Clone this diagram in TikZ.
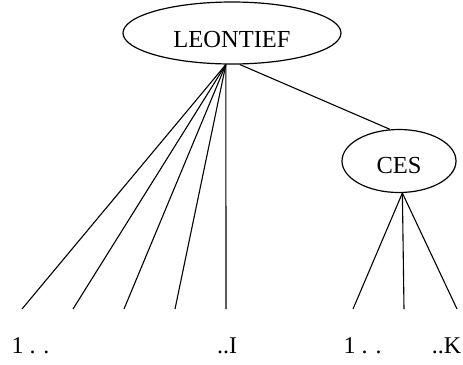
\documentclass[tikz,border=0pt]{standalone}
\usepackage{fontspec}
\setmainfont{Liberation Serif}
\usetikzlibrary{shapes.geometric}
\begin{document}
\begin{tikzpicture}[x=1bp,y=-1bp,
  nodeell/.style={draw,ellipse,line width=1.2bp,inner sep=0pt,font=\fontsize{24.5bp}{28bp}\selectfont,text depth=0pt},
  edge/.style={line width=1.1bp},
  leaflabel/.style={anchor=base,inner sep=0pt,font=\fontsize{24bp}{28bp}\selectfont}]
\useasboundingbox (0,0) rectangle (463,364);
\node[nodeell,minimum width=218bp,minimum height=62bp,text height=28bp] (L) at (232,33) {LEONTIEF};
\node[nodeell,minimum width=114bp,minimum height=63bp,text height=24bp] (C) at (399,161) {CES};
\coordinate (a1) at (22,309);
\coordinate (a2) at (73,309);
\coordinate (a3) at (124,309);
\coordinate (a4) at (175,309);
\coordinate (a5) at (226,309);
\coordinate (b1) at (353,309);
\coordinate (b2) at (404,309);
\coordinate (b3) at (457,309);
\foreach \p in {a1,a2,a3,a4,a5} \draw[edge] (L.-101) -- (\p);
\foreach \p in {b1,b2,b3} \draw[edge] (C.-84) -- (\p);
\draw[edge] (L.-76) -- (C.106);
\node[leaflabel] (t1) at (30.5,353) {1 . .};
\node[leaflabel] (t2) at (227,353) {..I};
\node[leaflabel] (t3) at (362.5,353) {1 . .};
\node[leaflabel] (t4) at (446.5,353) {..K};
\end{tikzpicture}
\end{document}
